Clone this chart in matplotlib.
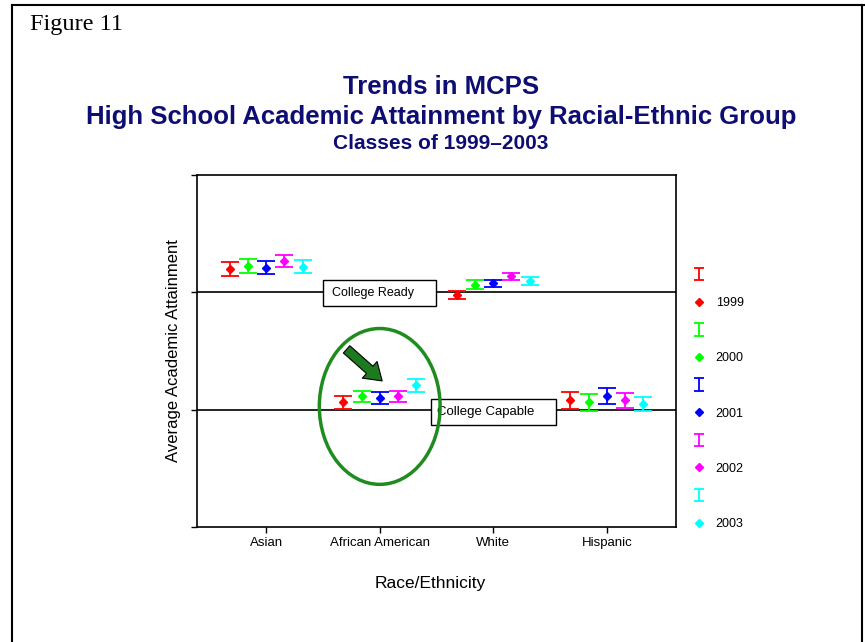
import numpy as np
import matplotlib.pyplot as plt
from matplotlib.patches import Ellipse, Rectangle
from matplotlib.lines import Line2D

plt.rcParams['font.family'] = ['Liberation Sans', 'DejaVu Sans']

groups = ['Asian', 'African American', 'White', 'Hispanic']
years = ['1999', '2000', '2001', '2002', '2003']
colors = ['#ff0000', '#00ff00', '#0000ff', '#ff00ff', '#00ffff']

# average attainment per group (rows) and class year (columns)
means = np.array([
    [2.20, 2.225, 2.21, 2.265, 2.22],
    [1.063, 1.114, 1.099, 1.114, 1.208],
    [1.979, 2.065, 2.076, 2.136, 2.093],
    [1.080, 1.063, 1.120, 1.080, 1.048],
])
errs = np.array([
    [0.062, 0.058, 0.056, 0.053, 0.056],
    [0.055, 0.049, 0.050, 0.049, 0.055],
    [0.032, 0.038, 0.033, 0.027, 0.034],
    [0.074, 0.073, 0.069, 0.066, 0.060],
])

fig = plt.figure(figsize=(8.65, 6.42), dpi=100)
ax = fig.add_axes([0.2277, 0.179, 0.5538, 0.5484])

x = np.arange(1, len(groups) + 1)
offsets = np.array([-2, -1, 0, 1, 2]) * 0.16
handles, labels = [], []
for j, yr in enumerate(years):
    ax.errorbar(x + offsets[j], means[:, j], yerr=errs[:, j], fmt='D',
                color=colors[j], ecolor=colors[j], ms=4.5, elinewidth=1.3,
                capsize=6.5, capthick=1.3, zorder=4)
    h_err = ax.errorbar([np.nan], [np.nan], yerr=[1], fmt='none',
                        ecolor=colors[j], elinewidth=1.3, capsize=3.5, capthick=1.3)
    h_pt = Line2D([], [], marker='D', ls='none', color=colors[j], ms=4)
    handles += [h_err, h_pt]
    labels += ['', yr]

# reference levels
ax.axhline(2, color='black', lw=1.2, zorder=2)
ax.axhline(1, color='black', lw=1.2, zorder=2)
ax.add_patch(Rectangle((1.496, 1.885), 0.997, 0.22, fc='white', ec='black', lw=1, zorder=3))
ax.text(1.58, 1.995, 'College Ready', fontsize=9, va='center', zorder=3.5)
ax.add_patch(Rectangle((2.454, 0.871), 1.100, 0.223, fc='white', ec='black', lw=1, zorder=3))
ax.text(2.505, 0.982, 'College Capable', fontsize=9.5, va='center', zorder=3.5)

# highlight on African American
ax.add_patch(Ellipse((2.0, 1.028), 1.064, 1.328, fill=False, ec='#1e8c1e', lw=2.5, zorder=5))
ax.annotate('', xy=(2.04, 1.23), xytext=(1.69, 1.53),
            arrowprops=dict(arrowstyle='simple,head_width=1.6,head_length=1.2,tail_width=0.7',
                            fc='#1e7a1e', ec='black', lw=0.8), zorder=6)

ax.set_xlim(0.39, 4.61)
ax.set_ylim(0, 3)
ax.set_xticks(x)
ax.set_xticklabels(groups, fontsize=9.5)
ax.set_yticks([0, 1, 2, 3])
ax.set_yticklabels([])
ax.tick_params(length=4, width=1)
for s in ax.spines.values():
    s.set_linewidth(1.2)
ax.set_ylabel('Average Academic Attainment', fontsize=12, labelpad=4)
ax.set_xlabel('Race/Ethnicity', fontsize=12.5, labelpad=19)
ax.xaxis.label.set_x(0.486)

ax.legend(handles, labels, loc='upper left', bbox_to_anchor=(0.795, 0.59),
          bbox_transform=fig.transFigure, frameon=False, fontsize=9,
          handlelength=0.8, handletextpad=0.95, labelspacing=1.25, borderpad=0)

navy = '#0d0d73'
fig.text(0.51, 0.865, 'Trends in MCPS', ha='center', va='center',
         fontsize=18.5, fontweight='bold', color=navy)
fig.text(0.51, 0.818, 'High School Academic Attainment by Racial-Ethnic Group',
         ha='center', va='center', fontsize=18.5, fontweight='bold', color=navy)
fig.text(0.51, 0.776, 'Classes of 1999\u20132003', ha='center', va='center',
         fontsize=15, fontweight='bold', color=navy)
fig.text(0.035, 0.962, 'Figure 11', ha='left', va='center', fontsize=17.5,
         family=['Liberation Serif', 'DejaVu Serif'])

# outer frame
fig.add_artist(Line2D([12 / 865, 12 / 865], [0, 1 - 5 / 642], transform=fig.transFigure, color='black', lw=1.5))
fig.add_artist(Line2D([12 / 865, 1], [1 - 5 / 642, 1 - 5 / 642], transform=fig.transFigure, color='black', lw=1.5))
fig.add_artist(Line2D([862 / 865, 862 / 865], [0, 1 - 5 / 642], transform=fig.transFigure, color='black', lw=1.5))

fig.savefig('out.png', dpi=100)
